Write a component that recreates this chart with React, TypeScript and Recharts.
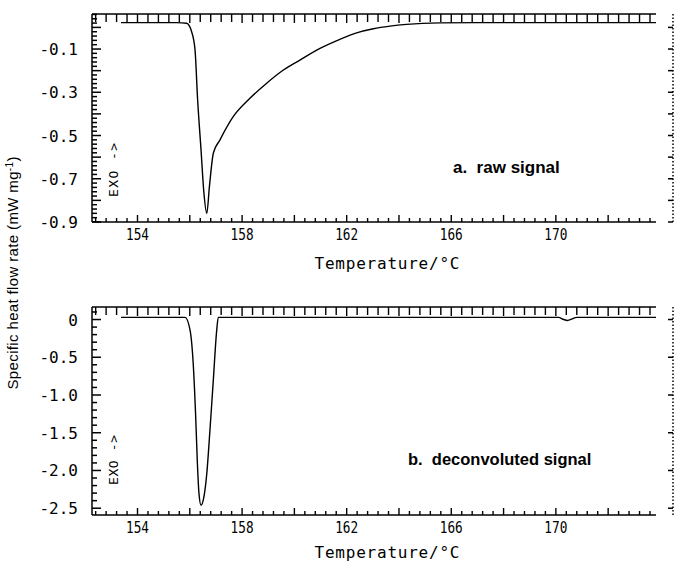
import { LineChart, Line, XAxis, YAxis, ReferenceLine } from 'recharts'

// raw signal (panel a)
const TEMP_A = [153.37, 155.5, 155.88, 156.07, 156.2, 156.3, 156.43, 156.54, 156.65, 156.75, 156.9, 157.15, 157.66, 158.3, 158.94, 159.58, 160.21, 160.98, 161.74, 162.38, 163.02, 163.66, 164.29, 165.57, 167.0, 169.0, 171.0, 173.83]
const HEAT_A = [0.022, 0.022, 0.019, -0.02, -0.104, -0.336, -0.567, -0.766, -0.86, -0.737, -0.582, -0.521, -0.413, -0.328, -0.258, -0.197, -0.151, -0.097, -0.055, -0.025, -0.006, 0.006, 0.014, 0.021, 0.022, 0.022, 0.022, 0.022]

// deconvoluted signal (panel b)
const TEMP_B = [153.37, 155.5, 155.82, 156.01, 156.13, 156.22, 156.29, 156.35, 156.43, 156.54, 156.65, 156.77, 156.9, 157.03, 157.09, 157.3, 170.1, 170.3, 170.45, 170.6, 170.8, 173.83]
const HEAT_B = [0.029, 0.029, 0.029, -0.14, -0.58, -1.24, -1.9, -2.3, -2.46, -2.35, -2.04, -1.47, -0.8, -0.14, 0.029, 0.029, 0.029, 0.0, -0.012, 0.005, 0.029, 0.029]

const X_LABELS = [154, 158, 162, 166, 170]
const Y_LABELS_A = [-0.1, -0.3, -0.5, -0.7, -0.9]
const Y_LABELS_B = [0, -0.5, -1.0, -1.5, -2.0, -2.5]

const X_DOMAIN: [number, number] = [152.26, 174.48]
const X_FRAME_END = 173.83
const Y_DOMAIN_A: [number, number] = [-0.9, 0.062]
const Y_DOMAIN_B: [number, number] = [-2.59, 0.166]

const INK = '#000'
const MONO = '"DejaVu Sans Mono", "Liberation Mono", monospace'
const SANS = '"Liberation Sans", Arial, sans-serif'

const LEFT = 92
const RIGHT = 7
const TOP = 14
const PLOT_W = 680 - LEFT - RIGHT
const PLOT_H = 208

function steps(from: number, to: number, step: number) {
  const out: number[] = []
  const n = Math.round((to - from) / step)
  for (let i = 0; i <= n; i++) out.push(Math.round((from + i * step) * 1000) / 1000)
  return out
}

const near = (a: number, b: number) => Math.abs(a - b) < 1e-6
const isMultiple = (v: number, m: number) => near(v / m, Math.round(v / m))

const X_TICKS = steps(152.4, 173.6, 0.4)

function fmtA(v: number) {
  return v.toFixed(1)
}
function fmtB(v: number) {
  return v === 0 ? '0' : v.toFixed(1)
}

const xLabelTick = (p: any) => (
  <text x={p.x} y={p.y + 18} textAnchor="middle" fontFamily={MONO} fontSize={16} fill={INK} textLength={23} lengthAdjust="spacingAndGlyphs">
    {p.payload.value}
  </text>
)

function makeYLabelTick(fmt: (v: number) => string) {
  return (p: any) => (
    <text x={p.x - 14} y={p.y + 6} textAnchor="end" fontFamily={MONO} fontSize={16} fill={INK}>
      {fmt(p.payload.value)}
    </text>
  )
}

interface PanelProps {
  temps: number[]
  heats: number[]
  yDomain: [number, number]
  leftTicks: number[]
  majorStep: number
  rightTicks: number[]
  labels: number[]
  fmt: (v: number) => string
  height: number
}

function Panel({ temps, heats, yDomain, leftTicks, majorStep, rightTicks, labels, fmt, height }: PanelProps) {
  const data = temps.map((t, i) => ({ t, v: heats[i] }))
  // pixel -> data unit conversions for tick mark lengths
  const dx = (X_DOMAIN[1] - X_DOMAIN[0]) / PLOT_W
  const dy = (yDomain[1] - yDomain[0]) / PLOT_H
  const [x0, xMax] = X_DOMAIN
  const [y0, y1] = yDomain

  const seg = (key: string, a: { x: number; y: number }, b: { x: number; y: number }, w = 1.4) => (
    <ReferenceLine key={key} segment={[a, b]} stroke={INK} strokeWidth={w} ifOverflow="visible" />
  )

  const marks: JSX.Element[] = []
  X_TICKS.forEach((t, i) => {
    const major = isMultiple(t, 2)
    marks.push(seg(`b${i}`, { x: t, y: y0 }, { x: t, y: y0 + (major ? 7 : 4) * dy }))
    marks.push(seg(`t${i}`, { x: t, y: y1 }, { x: t, y: y1 - (major ? 9 : 8) * dy }))
  })
  leftTicks.forEach((v, i) => {
    const major = isMultiple(v, majorStep)
    marks.push(seg(`l${i}`, { x: x0, y: v }, { x: x0 + (major ? 9 : 5) * dx, y: v }, 1.5))
  })
  rightTicks.forEach((v, i) => {
    marks.push(seg(`r${i}`, { x: xMax, y: v }, { x: xMax - 5 * dx, y: v }, 1.5))
  })

  return (
    <LineChart width={680} height={height} data={data} margin={{ top: TOP, right: RIGHT, bottom: height - TOP - PLOT_H - 30, left: 0 }}>
      <XAxis
        type="number"
        dataKey="t"
        domain={X_DOMAIN}
        allowDataOverflow
        ticks={X_LABELS}
        interval={0}
        tick={xLabelTick}
        tickLine={false}
        tickSize={0}
        tickMargin={0}
        axisLine={false}
        height={30}
      />
      <YAxis
        type="number"
        domain={yDomain}
        allowDataOverflow
        ticks={labels}
        interval={0}
        tick={makeYLabelTick(fmt)}
        tickLine={false}
        tickSize={0}
        tickMargin={0}
        axisLine={{ stroke: INK, strokeWidth: 1.5 }}
        width={LEFT}
      />
      {seg('frameTop', { x: x0, y: y1 }, { x: X_FRAME_END, y: y1 }, 1.6)}
      {seg('frameBottom', { x: x0, y: y0 }, { x: X_FRAME_END, y: y0 }, 1.6)}
      <ReferenceLine
        segment={[{ x: xMax, y: y0 }, { x: xMax, y: y1 }]}
        stroke={INK}
        strokeWidth={1.5}
        strokeDasharray="1.5 2"
        ifOverflow="visible"
      />
      {marks}
      <Line type="monotone" dataKey="v" stroke={INK} strokeWidth={1.4} dot={false} isAnimationActive={false} />
    </LineChart>
  )
}

export default function App() {
  return (
    <div style={{ position: 'absolute', left: 0, top: 0, width: 680, height: 563, overflow: 'hidden', background: '#fff' }}>
      <div style={{ position: 'absolute', left: 0, top: 0 }}>
        <Panel
          temps={TEMP_A}
          heats={HEAT_A}
          yDomain={Y_DOMAIN_A}
          leftTicks={steps(-0.9, 0.06, 0.02)}
          majorStep={0.1}
          rightTicks={steps(-0.9, 0, 0.1)}
          labels={Y_LABELS_A}
          fmt={fmtA}
          height={280}
        />
      </div>
      <div style={{ position: 'absolute', left: 0, top: 293 }}>
        <Panel
          temps={TEMP_B}
          heats={HEAT_B}
          yDomain={Y_DOMAIN_B}
          leftTicks={steps(-2.5, 0.1, 0.1)}
          majorStep={0.5}
          rightTicks={steps(-2.5, 0, 0.5)}
          labels={Y_LABELS_B}
          fmt={fmtB}
          height={270}
        />
      </div>
      <svg width={680} height={563} style={{ position: 'absolute', left: 0, top: 0, pointerEvents: 'none' }}>
        <text transform="translate(18,273) rotate(-90)" textAnchor="middle" fontFamily={SANS} fontSize={15} fill={INK} textLength={233}>
          Specific heat flow rate (mW mg<tspan dy={-5} fontSize={10}>-1</tspan><tspan dy={5}>)</tspan>
        </text>
        <text transform="translate(118,170) rotate(-90)" textAnchor="middle" fontFamily={MONO} fontSize={13} fill={INK} textLength={54}>
          EXO -&gt;
        </text>
        <text transform="translate(118,460) rotate(-90)" textAnchor="middle" fontFamily={MONO} fontSize={13} fill={INK} textLength={50}>
          EXO -&gt;
        </text>
        <text x={453} y={173} fontFamily={SANS} fontWeight="bold" fontSize={17} fill={INK} style={{ whiteSpace: 'pre' }}>
          {'a.  raw signal'}
        </text>
        <text x={408} y={465} fontFamily={SANS} fontWeight="bold" fontSize={16.5} fill={INK} style={{ whiteSpace: 'pre' }}>
          {'b.  deconvoluted signal'}
        </text>
        <text x={387} y={269} textAnchor="middle" fontFamily={MONO} fontSize={16} fill={INK} textLength={145}>
          Temperature/°C
        </text>
        <text x={387} y={558} textAnchor="middle" fontFamily={MONO} fontSize={16} fill={INK} textLength={145}>
          Temperature/°C
        </text>
      </svg>
    </div>
  )
}
